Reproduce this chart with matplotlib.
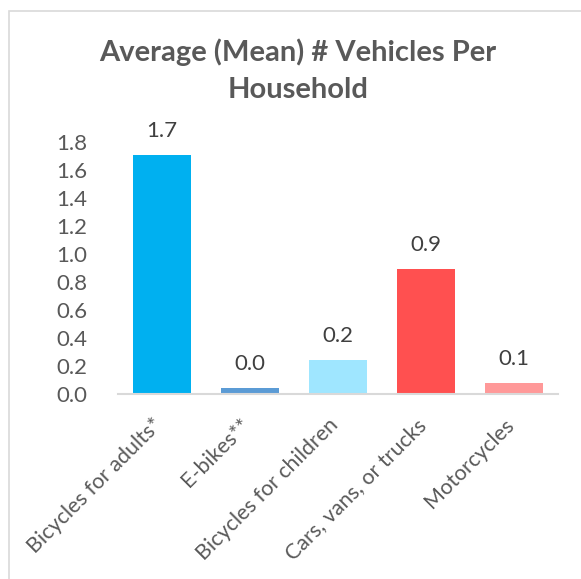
import matplotlib.pyplot as plt
import matplotlib.transforms as mtransforms
from matplotlib.patches import Rectangle

# Average vehicles per household by type
categories = ["Bicycles for adults*", "E-bikes**", "Bicycles for children",
              "Cars, vans, or trucks", "Motorcycles"]
means = [1.71, 0.04, 0.24, 0.89, 0.08]
bar_colors = ["#00B0F0", "#5B9BD5", "#9FE6FF", "#FF5050", "#FF9999"]
yticks = [0.0, 0.2, 0.4, 0.6, 0.8, 1.0, 1.2, 1.4, 1.6, 1.8]
title_lines = ["Average (Mean) # Vehicles Per", "Household"]

plt.rcParams["font.family"] = ["Lato", "DejaVu Sans"]

fig = plt.figure(figsize=(5.81, 5.79), dpi=100)

# chart frame
fig.patches.append(Rectangle((9 / 581, -0.1), 1.2, 1 - 11 / 579 + 0.1,
                             transform=fig.transFigure, fill=False,
                             edgecolor="#D9D9D9", linewidth=1.2))

ax = fig.add_axes([118 / 581, 1 - 394 / 579, 440 / 581, 252 / 579])
x = range(len(categories))
ax.bar(x, means, width=0.66, color=bar_colors)

for i, v in enumerate(means):
    ax.text(i, v + 0.1, f"{v:.1f}", ha="center", va="bottom",
            fontsize=16, color="#404040")

ax.set_xlim(-0.5, len(categories) - 0.5)
ax.set_ylim(0, 1.8)
ax.set_yticks(yticks)
ax.set_yticklabels([f"{t:.1f}" for t in yticks], fontsize=16, color="#595959")
ax.set_xticks(list(x))
ax.set_xticklabels(categories, rotation=45, ha="right", rotation_mode="anchor",
                   fontsize=15.5, color="#595959")
ax.tick_params(axis="both", length=0)
ax.tick_params(axis="y", pad=22)
ax.tick_params(axis="x", pad=15)

# nudge rotated labels a little to the left, like Excel does
shift = mtransforms.ScaledTranslation(-10 / 100, 0, fig.dpi_scale_trans)
for lbl in ax.get_xticklabels():
    lbl.set_transform(lbl.get_transform() + shift)

for s in ["top", "right", "left"]:
    ax.spines[s].set_visible(False)
ax.spines["bottom"].set_color("#D9D9D9")
ax.spines["bottom"].set_linewidth(1.5)

for line, ypix in zip(title_lines, [52, 90]):
    fig.text(298 / 581, 1 - ypix / 579, line, ha="center", va="center",
             fontsize=21, fontweight="bold", color="#595959")

fig.savefig("out.png", dpi=100)
